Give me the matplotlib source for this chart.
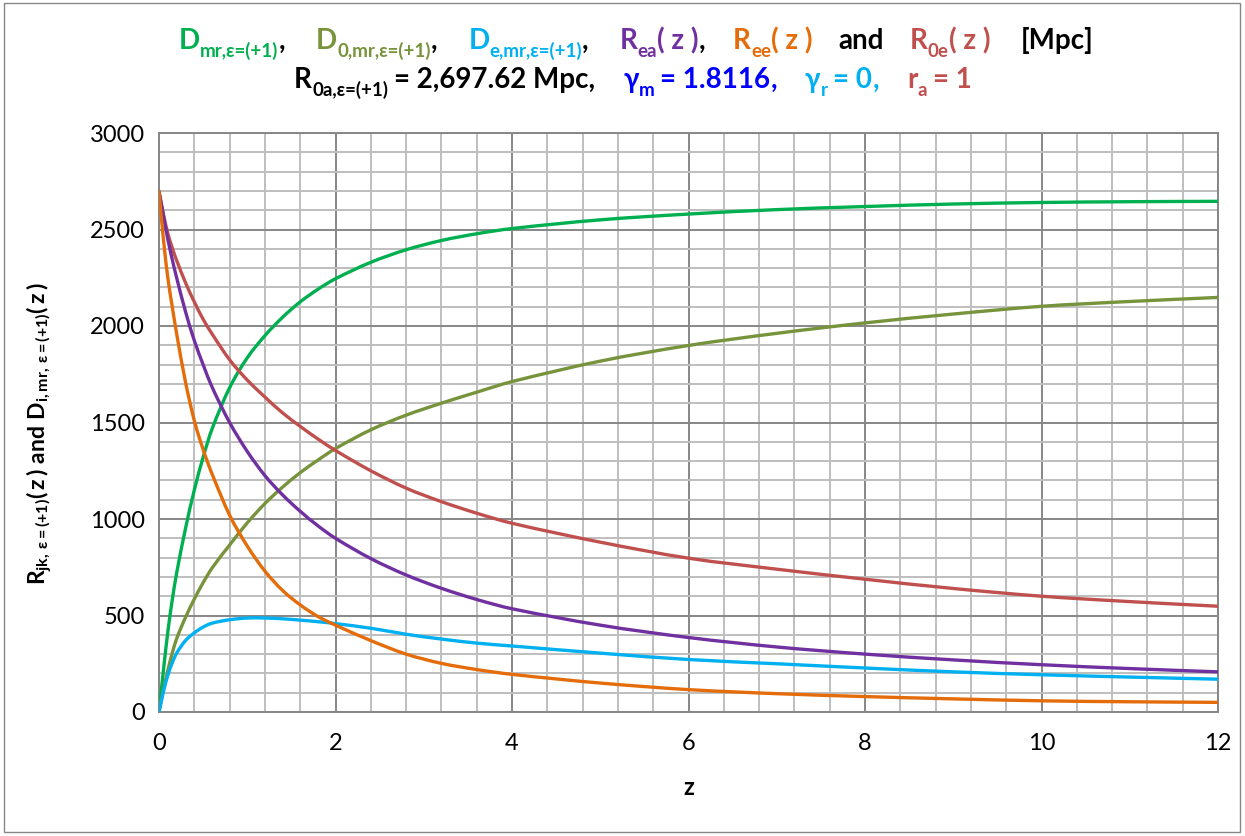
import matplotlib
matplotlib.use('Agg')
import matplotlib.pyplot as plt
from matplotlib.ticker import MultipleLocator
from matplotlib.patches import Rectangle, PathPatch
from matplotlib.path import Path

plt.rcParams['font.family'] = ['Lato', 'DejaVu Sans']
plt.rcParams['mathtext.fontset'] = 'custom'
plt.rcParams['mathtext.rm'] = 'Lato:bold'
plt.rcParams['mathtext.it'] = 'Lato:bold'
plt.rcParams['mathtext.bf'] = 'Lato:bold'

# ---------------- data ----------------
z = [0, 0.05, 0.1, 0.15, 0.2, 0.3, 0.4, 0.5, 0.6, 0.8, 1.0, 1.2, 1.4, 1.6, 1.8,
     2.0, 2.4, 2.8, 3.2, 3.6, 4, 5, 6, 7, 8, 9, 10, 11, 12]

D_mr = [0, 215, 415, 580, 720, 950, 1150, 1320, 1465, 1680, 1835, 1950, 2045, 2125, 2190,
        2245, 2330, 2395, 2443, 2478, 2505, 2550, 2580, 2603, 2619, 2632, 2640, 2644, 2646]
D_0mr = [0, 115, 215, 305, 380, 490, 585, 670, 745, 865, 980, 1080, 1165, 1240, 1305,
         1365, 1462, 1538, 1600, 1657, 1712, 1818, 1899, 1962, 2016, 2062, 2102, 2127, 2148]
D_emr = [0, 105, 190, 255, 305, 370, 410, 440, 460, 478, 487, 487, 483, 476, 468,
         458, 434, 403, 378, 357, 342, 305, 272, 250, 228, 208, 193, 181, 170]
R_ea = [2697, 2570, 2450, 2345, 2250, 2075, 1925, 1800, 1685, 1500, 1350, 1225, 1125, 1040, 965,
        900, 795, 710, 641, 583, 535, 450, 386, 337, 300, 270, 245, 225, 208]
R_ee = [2697, 2450, 2250, 2100, 1960, 1710, 1510, 1360, 1235, 1020, 860, 730, 630, 555, 495,
        450, 370, 300, 252, 220, 195, 150, 116, 95, 80, 68, 58, 53, 50]
R_0e = [2697, 2580, 2480, 2405, 2340, 2225, 2125, 2035, 1960, 1825, 1720, 1632, 1550, 1480, 1415,
        1355, 1250, 1160, 1090, 1030, 978, 880, 797, 740, 688, 640, 600, 572, 548]

series = [
    (D_mr, '#00B050'),
    (D_0mr, '#77933C'),
    (D_emr, '#00B0F0'),
    (R_0e, '#C0504D'),
    (R_ea, '#7030A0'),
    (R_ee, '#E46C0A'),
]

W, H = 1245, 836
fig = plt.figure(figsize=(W / 100, H / 100), dpi=100)
fig.patch.set_facecolor('white')

ax = fig.add_axes([159 / W, 1 - 712 / H, (1218 - 159) / W, (712 - 133) / H])


def smooth_line(x, y, color):
    """Smoothed line through the data points (like a spreadsheet 'smoothed line')."""
    n = len(x)
    slopes = []
    for i in range(n):
        a = max(i - 1, 0)
        b = min(i + 1, n - 1)
        slopes.append((y[b] - y[a]) / (x[b] - x[a]))
    verts = [(x[0], y[0])]
    codes = [Path.MOVETO]
    for i in range(n - 1):
        h = x[i + 1] - x[i]
        verts += [(x[i] + h / 3, y[i] + slopes[i] * h / 3),
                  (x[i + 1] - h / 3, y[i + 1] - slopes[i + 1] * h / 3),
                  (x[i + 1], y[i + 1])]
        codes += [Path.CURVE4] * 3
    ax.add_patch(PathPatch(Path(verts, codes), fill=False, edgecolor=color, lw=2.4,
                           capstyle='round', joinstyle='round', zorder=3,
                           transform=ax.transData))


for vals, col in series:
    smooth_line(z, vals, col)

ax.set_xlim(0, 12)
ax.set_ylim(0, 3000)
ax.xaxis.set_major_locator(MultipleLocator(2))
ax.xaxis.set_minor_locator(MultipleLocator(0.4))
ax.yaxis.set_major_locator(MultipleLocator(500))
ax.yaxis.set_minor_locator(MultipleLocator(100))
ax.grid(which='minor', color='#BEBEBE', lw=1.4)
ax.grid(which='major', color='#878787', lw=1.4)
ax.set_axisbelow(True)
ax.tick_params(which='both', length=0)
ax.tick_params(axis='x', pad=15, labelsize=17)
ax.tick_params(axis='y', pad=10, labelsize=17)
for s in ax.spines.values():
    s.set_color('#878787')
    s.set_linewidth(1.4)

ax.set_xlabel('z', fontsize=17, fontweight='bold', labelpad=16)
ax.set_ylabel(r'$\mathrm{R_{jk,\,ε=(+1)}(\,z\,)\ and\ D_{i,mr,\,ε=(+1)}(\,z\,)}$',
              fontsize=16.5)
ax.yaxis.set_label_coords(-0.099, 0.48)

# figure border
fig.patches.append(Rectangle((4 / W, 4 / H), (1240 - 4) / W, (833 - 4) / H,
                             transform=fig.transFigure, fill=False,
                             edgecolor='#878787', lw=1.0))

# ---------------- multi-coloured title ----------------
G, O, C, P, OR, RD, K, B = ('#00B050', '#77933C', '#00B0F0', '#7030A0',
                            '#E46C0A', '#C0504D', '#000000', '#0000FF')


def place_line(segs, center_px, base_px, size, subsize, suboff):
    renderer = fig.canvas.get_renderer()
    items = []
    for seg in segs:
        if isinstance(seg, (int, float)):
            items.append((None, seg, False))
            continue
        txt, col, sub = seg
        t = fig.text(0, 0, txt, color=col, fontsize=subsize if sub else size,
                     fontweight='bold', ha='left', va='baseline')
        w = t.get_window_extent(renderer=renderer).width
        items.append((t, w, sub))
    total = sum(w for _, w, _ in items)
    x = center_px - total / 2
    for t, w, sub in items:
        if t is not None:
            yb = base_px + (suboff if sub else 0)
            t.set_position((x / W, 1 - yb / H))
        x += w


line1 = [('D', G, False), ('mr,ε=(+1)', G, True), (',', K, False), 31,
         ('D', O, False), ('0,mr,ε=(+1)', O, True), (',', K, False), 31,
         ('D', C, False), ('e,mr,ε=(+1)', C, True), (',', K, False), 31,
         ('R', P, False), ('ea', P, True), ('( z )', P, False), (',', K, False), 28,
         ('R', OR, False), ('ee', OR, True), ('( z )', OR, False), 26,
         ('and', K, False), 26,
         ('R', RD, False), ('0e', RD, True), ('( z )', RD, False), 30,
         ('[Mpc]', K, False)]
line2 = [('R', K, False), ('0a,ε=(+1)', K, True), 6, ('= 2,697.62 Mpc,', K, False), 28,
         ('γ', B, False), ('m', B, True), 6, ('= 1.8116', B, False), (',', B, False), 28,
         ('γ', C, False), ('r', C, True), 6, ('= 0', C, False), (',', C, False), 28,
         ('r', RD, False), ('a', RD, True), 6, ('= 1', RD, False)]

place_line(line1, 636, 49, 20, 13.5, 8)
place_line(line2, 633, 88, 20, 13.5, 8)

fig.savefig('out.png', dpi=100, facecolor='white')
